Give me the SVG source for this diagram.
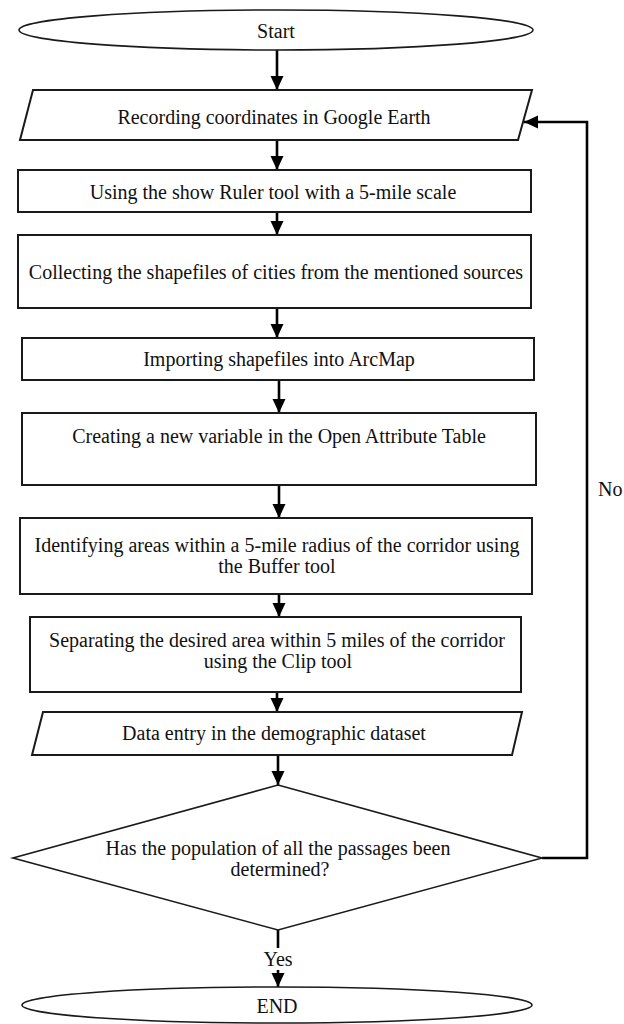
<svg xmlns="http://www.w3.org/2000/svg" width="624" height="1024" viewBox="0 0 624 1024">
<style>
.shape{fill:#fff;stroke:#1a1a1a;stroke-width:2}
.thin{fill:#fff;stroke:#1a1a1a;stroke-width:1.6}
.lbl{font-family:"Liberation Serif","Times New Roman",serif;font-size:20px;fill:#111;text-anchor:middle}
.conn{fill:none;stroke:#000;stroke-width:2.6}
</style>
<defs>
<marker id="ah" viewBox="0 0 14 14" refX="14" refY="7" markerWidth="14" markerHeight="14" markerUnits="userSpaceOnUse" orient="auto">
<path d="M0,0.5 L14,7 L0,13.5 z" fill="#000"/>
</marker>
</defs>
<rect width="624" height="1024" fill="#fff"/>

<g id="connectors">
<line class="conn" x1="277" y1="50" x2="277" y2="90" marker-end="url(#ah)"/>
<line class="conn" x1="277" y1="140" x2="277" y2="170" marker-end="url(#ah)"/>
<line class="conn" x1="277" y1="212" x2="277" y2="235" marker-end="url(#ah)"/>
<line class="conn" x1="277" y1="308" x2="277" y2="338" marker-end="url(#ah)"/>
<line class="conn" x1="279" y1="380" x2="279" y2="413" marker-end="url(#ah)"/>
<line class="conn" x1="279" y1="485" x2="279" y2="518" marker-end="url(#ah)"/>
<line class="conn" x1="279" y1="594" x2="279" y2="617" marker-end="url(#ah)"/>
<line class="conn" x1="277" y1="692" x2="277" y2="712" marker-end="url(#ah)"/>
<line class="conn" x1="278" y1="755" x2="278" y2="785" marker-end="url(#ah)"/>
<line class="conn" x1="278" y1="930" x2="278" y2="987" marker-end="url(#ah)"/>
<polyline class="conn" points="542,858 587,858 587,122 524,122" marker-end="url(#ah)"/>
<rect x="260" y="948" width="36" height="22" fill="#fff"/>
<text class="lbl" x="278" y="966">Yes</text>
<text class="lbl" x="598" y="496" style="text-anchor:start">No</text>
</g>

<g id="start">
<ellipse class="thin" cx="276" cy="30" rx="257" ry="20"/>
<text class="lbl" x="276" y="38">Start</text>
</g>

<g id="recording">
<polygon class="shape" points="33,90 532,90 518,140 20,140"/>
<text class="lbl" x="274" y="124">Recording coordinates in Google Earth</text>
</g>

<g id="ruler">
<rect class="shape" x="18" y="170" width="513" height="42"/>
<text class="lbl" x="273" y="199">Using the show Ruler tool with a 5-mile scale</text>
</g>

<g id="collecting">
<rect class="shape" x="18" y="235" width="513" height="73"/>
<text class="lbl" x="276" y="279">Collecting the shapefiles of cities from the mentioned sources</text>
</g>

<g id="importing">
<rect class="shape" x="22" y="338" width="512" height="42"/>
<text class="lbl" x="279" y="366">Importing shapefiles into ArcMap</text>
</g>

<g id="creating">
<rect class="shape" x="22" y="413" width="514" height="72"/>
<text class="lbl" x="279" y="443">Creating a new variable in the Open Attribute Table</text>
</g>

<g id="identifying">
<rect class="shape" x="20" y="518" width="512" height="76"/>
<text class="lbl" x="277" y="552">Identifying areas within a 5-mile radius of the corridor using</text>
<text class="lbl" x="277" y="573">the Buffer tool</text>
</g>

<g id="separating">
<rect class="shape" x="30" y="617" width="491" height="75"/>
<text class="lbl" x="277" y="647">Separating the desired area within 5 miles of the corridor</text>
<text class="lbl" x="278" y="668">using the Clip tool</text>
</g>

<g id="dataentry">
<polygon class="shape" points="43,712 522,712 512,755 32,755"/>
<text class="lbl" x="274" y="740">Data entry in the demographic dataset</text>
</g>

<g id="decision">
<polygon class="thin" points="278,785 542,858 278,930 13,858"/>
<text class="lbl" x="278" y="855">Has the population of all the passages been</text>
<text class="lbl" x="280" y="876">determined?</text>
</g>

<g id="end">
<ellipse class="thin" cx="277" cy="1005" rx="255" ry="18"/>
<text class="lbl" x="277" y="1013">END</text>
</g>
</svg>
